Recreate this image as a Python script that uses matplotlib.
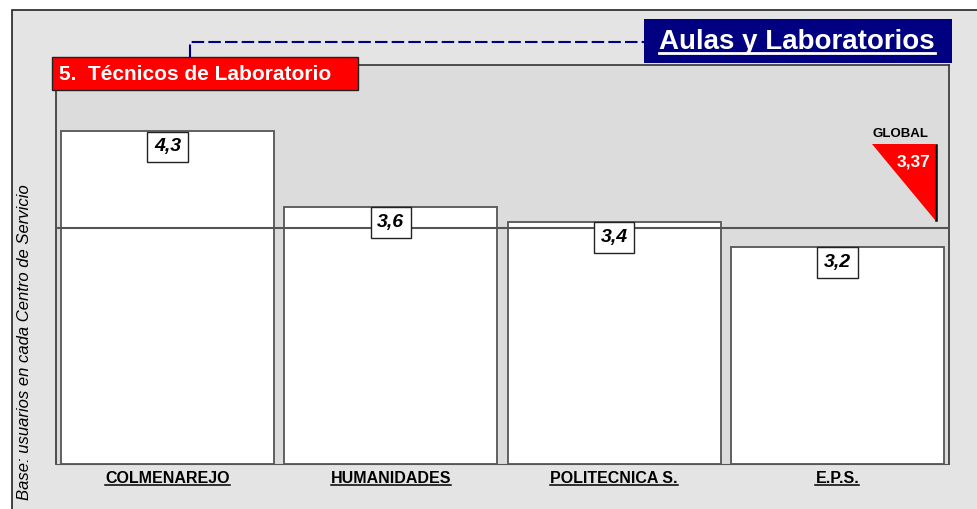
import matplotlib
matplotlib.use("Agg")
import matplotlib.pyplot as plt
from matplotlib.patches import Rectangle, Polygon
from matplotlib.lines import Line2D

# data
centros = ["COLMENAREJO", "HUMANIDADES", "POLITECNICA S.", "E.P.S."]
valores = [4.34, 3.58, 3.43, 3.18]
etiquetas = ["4,3", "3,6", "3,4", "3,2"]
global_val = 3.37
global_txt = "3,37"
titulo = "Aulas y Laboratorios"
subtitulo = "5.  Técnicos de Laboratorio"
ylabel = "Base: usuarios en cada Centro de Servicio"

plt.rcParams["font.family"] = ["Liberation Sans", "DejaVu Sans"]

W, H = 978, 509
fig = plt.figure(figsize=(W / 100, H / 100), dpi=100)
fig.patch.set_facecolor("white")

# background layer in pixel coords
bg = fig.add_axes([0, 0, 1, 1])
bg.set_xlim(0, W); bg.set_ylim(H, 0); bg.axis("off")
bg.add_patch(Rectangle((12, 10), W, H, fc="#e4e4e4", ec="#222222", lw=1.2))

def px(x0, y0, x1, y1):
    return [x0 / W, 1 - y1 / H, (x1 - x0) / W, (y1 - y0) / H]

ax = fig.add_axes(px(56, 65, 949, 464))
ax.set_facecolor("#dcdcdc")
ax.set_xlim(-0.5, len(centros) - 0.5)
ax.set_ylim(1, 5)
for s in ["left", "top", "right"]:
    ax.spines[s].set_color("#333333"); ax.spines[s].set_linewidth(1.2)
ax.spines["bottom"].set_color("#555555")
ax.set_yticks([])
ax.tick_params(axis="x", length=0, pad=5)

ax.bar(range(len(centros)), [v - 1 for v in valores], bottom=1, width=0.955,
       color="white", edgecolor="#555555", linewidth=1.3, zorder=2)
ax.axhline(global_val, color="#555555", lw=1.5, zorder=3)

for i, (v, t) in enumerate(zip(valores, etiquetas)):
    ax.annotate(t, (i, v), xytext=(0, -11.5), textcoords="offset points",
                ha="center", va="center", fontsize=14, fontweight="bold",
                fontstyle="italic", zorder=5,
                bbox=dict(boxstyle="square,pad=0.35", fc="white", ec="#222222", lw=1))

# global marker
tr = ax.get_yaxis_transform()
tri = Polygon([(0.914, global_val + 0.84), (0.984, global_val + 0.84),
               (0.984, global_val + 0.08)], closed=True, transform=tr,
              fc="#ff0000", ec="none", zorder=4)
ax.add_patch(tri)
ax.add_line(Line2D([0.985, 0.985], [global_val + 0.08, global_val + 0.83],
                   transform=tr, color="black", lw=1.8, zorder=4))
ax.text(0.946, global_val + 0.94, "GLOBAL", transform=tr, ha="center", va="center",
        fontsize=9.5, fontweight="bold", zorder=5)
ax.text(0.979, global_val + 0.66, global_txt, transform=tr, ha="right", va="center",
        fontsize=12.5, fontweight="bold", color="white", zorder=5)

ax.set_xticks(range(len(centros)))
ax.set_xticklabels(centros, fontsize=11.5, fontweight="bold")

fig.text(25 / W, 1 - 342 / H, ylabel, rotation=90, ha="center", va="center",
         fontsize=12, fontstyle="italic")

# overlay for titles
top = fig.add_axes([0, 0, 1, 1])
top.set_xlim(0, W); top.set_ylim(H, 0); top.axis("off")
top.patch.set_alpha(0)

top.plot([190, 190, 644], [57, 42, 42], color="#000080", lw=1.5, ls=(0, (6, 2)))

top.add_patch(Rectangle((644, 19), 308, 44, fc="#000080", ec="none"))
t1 = top.text(797, 42, titulo, ha="center", va="center", fontsize=20,
              fontweight="bold", color="white")
top.add_patch(Rectangle((52, 57), 306, 33, fc="#ff0000", ec="#222222", lw=1))
top.text(59, 74, subtitulo, ha="left", va="center", fontsize=15,
         fontweight="bold", color="white")

# underlines
fig.canvas.draw()
r = fig.canvas.get_renderer()
inv = top.transData.inverted()
def underline(txt, color, lw, gap=2):
    bb = txt.get_window_extent(r)
    (x0, y0), (x1, _) = inv.transform([(bb.x0, bb.y0), (bb.x1, bb.y1)])
    top.plot([x0, x1], [y0 + gap, y0 + gap], color=color, lw=lw)
underline(t1, "white", 2.0, gap=-2)
for lab in ax.get_xticklabels():
    underline(lab, "black", 1.1, gap=-1)

fig.savefig("out.png", dpi=100)
